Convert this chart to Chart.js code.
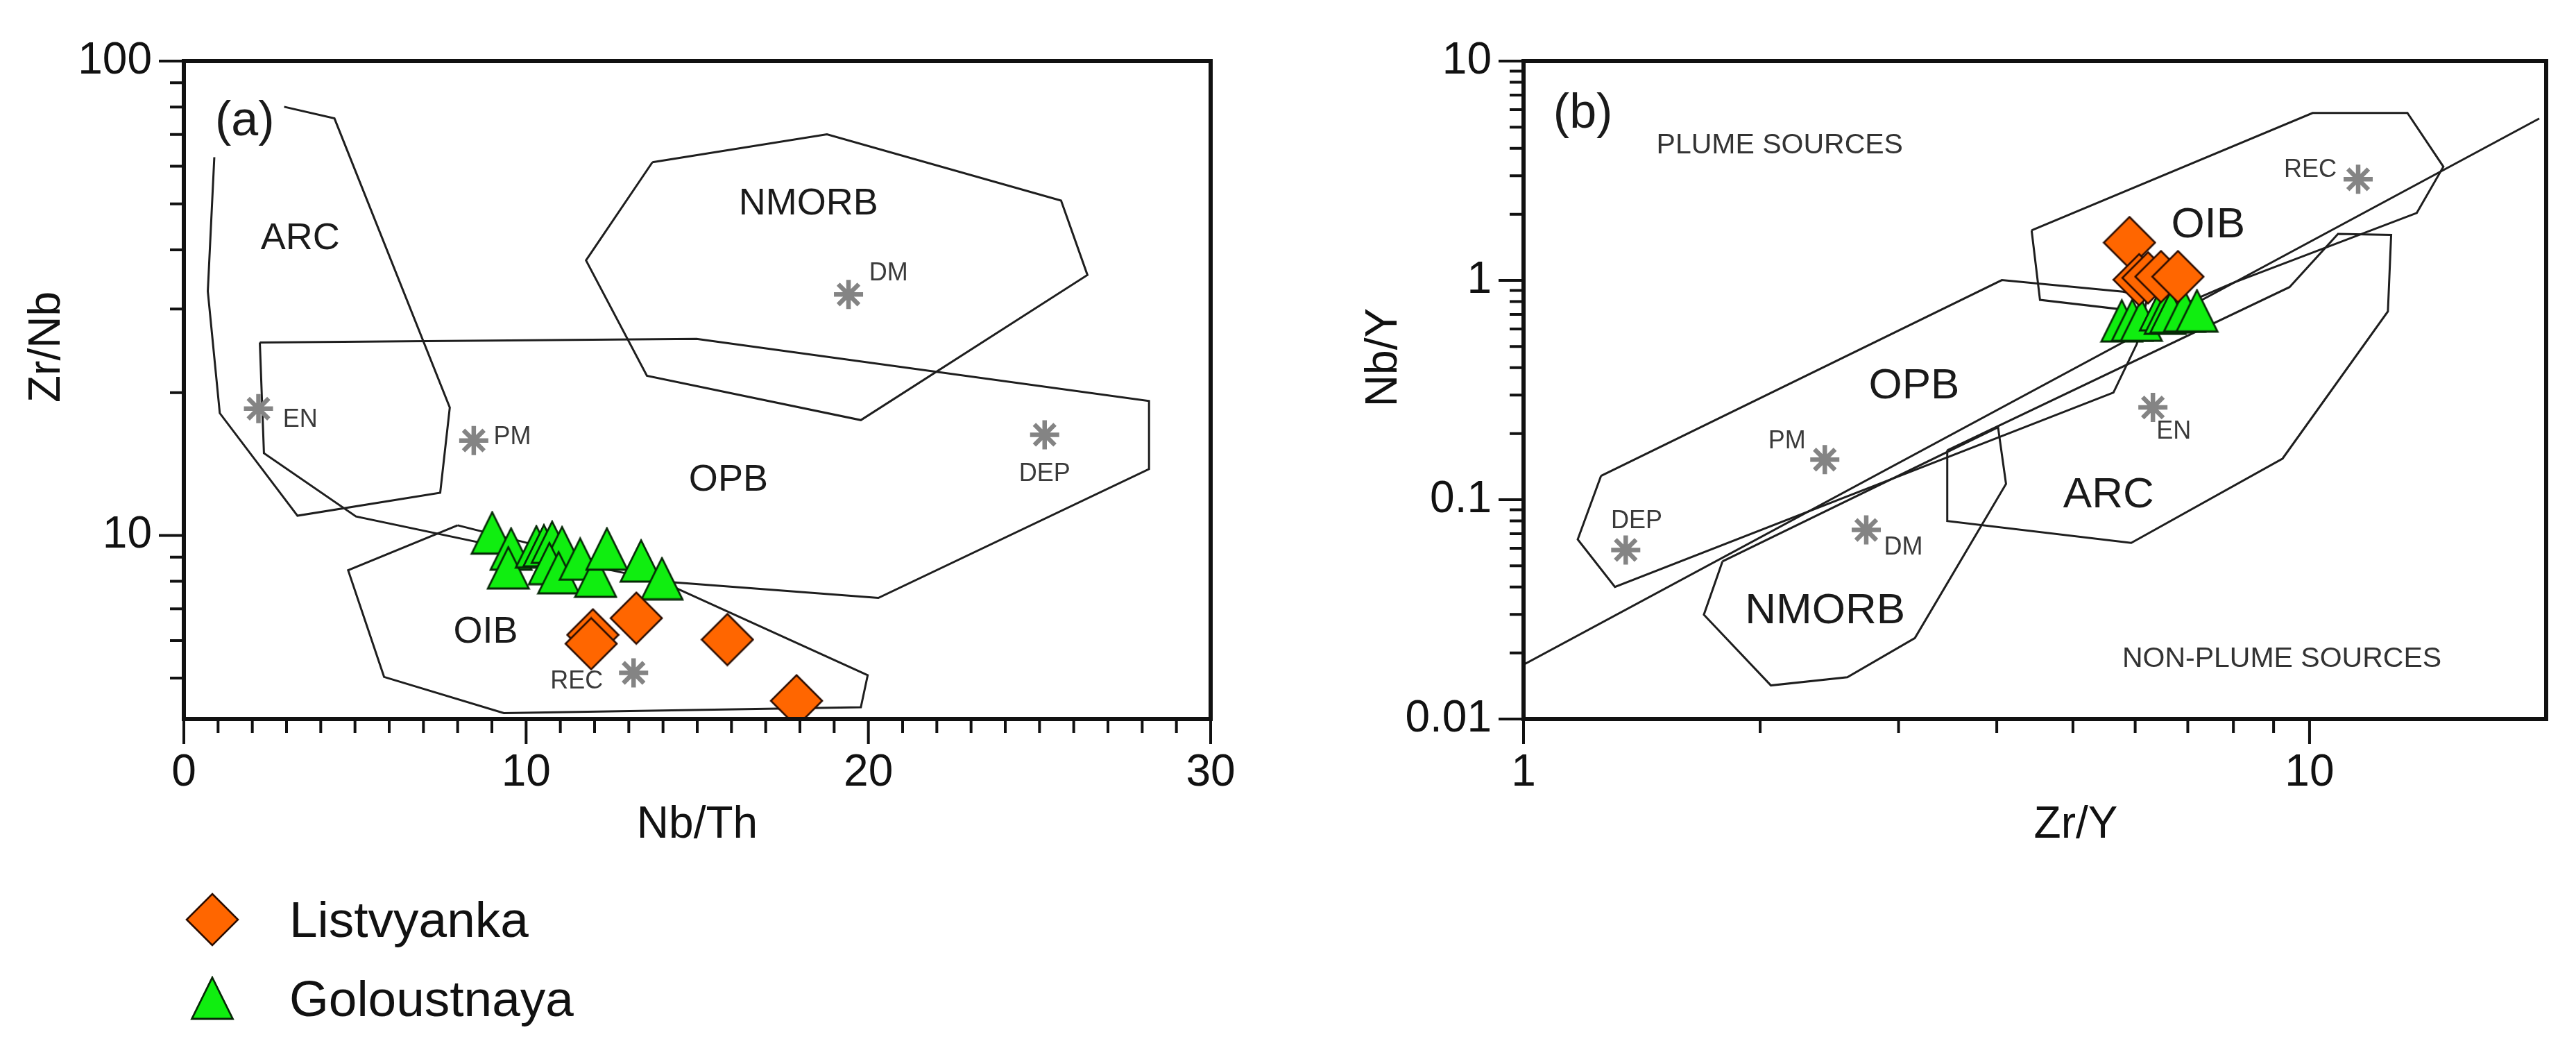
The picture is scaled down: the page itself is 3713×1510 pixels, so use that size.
<!DOCTYPE html>
<html>
<head>
<meta charset="utf-8">
<script src="https://cdn.jsdelivr.net/npm/chart.js@4.4.1/dist/chart.umd.min.js"></script>
<style>
  html, body { margin: 0; padding: 0; background: #fff; }
  body { width: 3713px; height: 1510px; position: relative; overflow: hidden; }
  canvas { position: absolute; top: 0; }
  #chartA { left: 0; }
  #chartB { left: 1850px; }
</style>
</head>
<body>
<canvas id="chartA" width="1850" height="1510"></canvas>
<canvas id="chartB" width="1863" height="1510"></canvas>
<script>
// ---- panel (a): Nb/Th vs Zr/Nb ----
const listvyankaA  = [[11.95, 6.17], [11.9, 5.91], [13.22, 6.69], [15.88, 6.03], [17.9, 4.48]];
const goloustnayaA = [[9.01, 10.13], [9.56, 9.37], [9.48, 8.55], [10.30, 9.47], [10.52, 9.52],
                      [10.76, 9.68], [11.05, 9.43], [10.68, 8.73], [10.95, 8.35], [11.58, 8.92],
                      [12.03, 8.21], [12.36, 9.37], [13.36, 8.84], [13.97, 8.11]];
const refPointsA   = [[2.18, 18.5], [8.47, 15.85], [19.42, 32.2], [25.15, 16.3], [13.14, 5.13]];
const refNamesA    = [['EN', 3.40, 17.5], ['PM', 9.60, 16.1], ['DM', 20.59, 35.6], ['DEP', 25.15, 13.45], ['REC', 11.48, 4.91]];
const arcA   = [[0.89, 62.7], [0.70, 32.7], [1.05, 18.1], [3.32, 11.0], [7.49, 12.3], [7.77, 18.6], [4.40, 75.7], [2.93, 80.1]];
const nmorbA = [[13.69, 61.2], [18.79, 70.1], [25.63, 50.8], [26.40, 35.4], [19.78, 17.5], [13.53, 21.7], [11.75, 38.0], [13.69, 61.2]];
const opbA   = [[2.22, 25.5], [14.98, 25.96], [28.2, 19.2], [28.2, 13.8], [20.29, 7.38], [14.1, 7.98], [5.03, 10.96], [2.34, 14.9], [2.22, 25.5]];
const oibA   = [[8.0, 10.5], [4.8, 8.44], [5.85, 5.03], [9.35, 4.22], [19.78, 4.34], [19.98, 5.07], [13.3, 8.4], [8.0, 10.5]];
const fieldNamesA = [['ARC', 3.40, 42.2], ['NMORB', 18.25, 49.9], ['OPB', 15.91, 13.08], ['OIB', 8.82, 6.25]];
const aXTicks  = [0,1,2,3,4,5,6,7,8,9,10,11,12,13,14,15,16,17,18,19,20,21,22,23,24,25,26,27,28,29,30];
const aXLabels = [0, 10, 20, 30];
const aYTicks  = [5,6,7,8,9,10,20,30,40,50,60,70,80,90,100];
const aYLabels = [10, 100];

// ---- panel (b): Zr/Y vs Nb/Y ----
const listvyankaB  = [[5.90, 1.487], [6.07, 1.007], [6.23, 1.027], [6.47, 1.04], [6.80, 1.04]];
const goloustnayaB = [[5.77, 0.655], [5.95, 0.66], [6.11, 0.66], [6.46, 0.736], [6.55, 0.71],
                      [6.66, 0.719], [6.93, 0.728], [7.19, 0.728]];
const refPointsB   = [[11.53, 2.89], [6.32, 0.2634], [2.417, 0.1523], [2.729, 0.0728], [1.349, 0.059]];
const refNamesB    = [['REC', 10.02, 3.18], ['EN', 6.72, 0.204], ['PM', 2.164, 0.1837], ['DM', 3.042, 0.0605], ['DEP', 1.393, 0.0796]];
const oibB   = [[4.43, 1.69], [10.09, 5.80], [13.32, 5.80], [14.80, 3.30], [13.69, 2.03], [8.01, 0.978], [6.47, 0.703], [4.54, 0.815], [4.43, 1.69]];
const opbB   = [[1.255, 0.1285], [4.06, 1.003], [5.79, 0.888], [6.22, 0.838], [6.03, 0.514], [5.63, 0.308], [1.307, 0.04], [1.172, 0.0659], [1.255, 0.1285]];
const nmorbB = [[1.791, 0.0523], [1.696, 0.0299], [2.064, 0.01423], [2.582, 0.0155], [3.147, 0.0234], [4.11, 0.118], [4.015, 0.214], [1.791, 0.0523]];
const arcB   = [[3.46, 0.168], [9.43, 0.932], [10.87, 1.63], [12.70, 1.611], [12.58, 0.722], [9.24, 0.154], [5.93, 0.0635], [3.46, 0.08], [3.46, 0.168]];
const dNbLine = [[1, 0.0177], [19.6, 5.47]];
const fieldNamesB  = [['OIB', 7.43, 1.775], ['OPB', 3.14, 0.3275], ['ARC', 5.55, 0.1045], ['NMORB', 2.419, 0.031]];
const sourceNamesB = [['PLUME SOURCES', 2.118, 4.107], ['NON-PLUME SOURCES', 9.22, 0.01875]];
const bXTicks  = [1,2,3,4,5,6,7,8,9,10];
const bXLabels = [1, 10];
const bYTicks  = [0.01,0.02,0.03,0.04,0.05,0.06,0.07,0.08,0.09,
                  0.1,0.2,0.3,0.4,0.5,0.6,0.7,0.8,0.9,
                  1,2,3,4,5,6,7,8,9,10];
const bYLabels = [0.01, 0.1, 1, 10];

const FONT = '"Liberation Sans", Arial, Helvetica, sans-serif';

function pts(arr) { return arr.map(p => ({ x: p[0], y: p[1] })); }

// marker images
function makeDiamond() {
  const c = document.createElement('canvas');
  c.width = 78; c.height = 78;
  const g = c.getContext('2d');
  g.beginPath();
  g.moveTo(39, 2); g.lineTo(76, 39); g.lineTo(39, 76); g.lineTo(2, 39); g.closePath();
  g.fillStyle = '#ff6600'; g.fill();
  g.lineWidth = 2.6; g.strokeStyle = '#2a0c00'; g.stroke();
  return c;
}
function makeTriangle() {
  const c = document.createElement('canvas');
  c.width = 64; c.height = 64;
  const g = c.getContext('2d');
  g.beginPath();
  g.moveTo(32, 2.5); g.lineTo(61.5, 62); g.lineTo(2.5, 62); g.closePath();
  g.fillStyle = '#10ee10'; g.fill();
  g.lineWidth = 2.8; g.strokeStyle = '#062806'; g.stroke();
  return c;
}
const diamondImg = makeDiamond();
const triangleImg = makeTriangle();

function fieldSet(arr) {
  return { type: 'line', data: pts(arr), showLine: true, borderColor: '#1e1e1e', borderWidth: 3,
           pointRadius: 0, fill: false, tension: 0, order: 3 };
}
function sampleSets(listv, golou, refs) {
  return [
    { label: 'Listvyanka', data: pts(listv), pointStyle: diamondImg, pointRadius: 10, order: 0 },
    { label: 'Goloustnaya', data: pts(golou), pointStyle: triangleImg, pointRadius: 10, order: 1 },
    { label: 'ref', data: pts(refs), pointStyle: 'star', pointRadius: 21, borderColor: '#848484',
      backgroundColor: '#848484', borderWidth: 6.5, order: 2 }
  ];
}

function overlay(cfg) {
  return {
    id: 'overlay',
    afterDatasetsDraw(chart) {
      const ctx = chart.ctx, sx = chart.scales.x, sy = chart.scales.y;
      ctx.save();
      ctx.textAlign = 'center';
      ctx.textBaseline = 'middle';
      cfg.texts.forEach(grp => {
        ctx.font = grp.size + 'px ' + FONT;
        ctx.fillStyle = grp.color;
        grp.items.forEach(([t, x, y]) => ctx.fillText(t, sx.getPixelForValue(x), sy.getPixelForValue(y)));
      });
      ctx.restore();
    },
    afterDraw(chart) {
      const ctx = chart.ctx, a = chart.chartArea, sx = chart.scales.x, sy = chart.scales.y;
      ctx.save();
      ctx.strokeStyle = '#111';
      ctx.lineWidth = 6;
      ctx.strokeRect(a.left, a.top, a.right - a.left, a.bottom - a.top);
      ctx.lineWidth = 4;
      ctx.beginPath();
      sx.ticks.forEach(t => {
        const p = sx.getPixelForValue(t.value);
        const len = cfg.xMajor.includes(t.value) ? 36 : 20;
        ctx.moveTo(p, a.bottom); ctx.lineTo(p, a.bottom + len);
      });
      sy.ticks.forEach(t => {
        const p = sy.getPixelForValue(t.value);
        const len = cfg.yMajor.includes(t.value) ? 36 : 20;
        ctx.moveTo(a.left, p); ctx.lineTo(a.left - len, p);
      });
      ctx.stroke();
      // axis titles
      ctx.fillStyle = '#111';
      ctx.font = '64px ' + FONT;
      ctx.textAlign = 'center';
      ctx.textBaseline = 'middle';
      ctx.fillText(cfg.xTitle[0], cfg.xTitle[1], cfg.xTitle[2]);
      ctx.save();
      ctx.translate(cfg.yTitle[1], cfg.yTitle[2]);
      ctx.rotate(-Math.PI / 2);
      ctx.fillText(cfg.yTitle[0], 0, 0);
      ctx.restore();
      ctx.restore();
      if (cfg.legend) cfg.legend(ctx);
    }
  };
}

function axis(type, min, max, tickVals, labelVals, fitProp, fitVal) {
  return {
    type, min, max,
    afterBuildTicks: s => { s.ticks = tickVals.map(v => ({ value: v })); },
    afterFit: s => { s[fitProp] = fitVal; },
    ticks: {
      autoSkip: false, maxRotation: 0, padding: 10, color: '#111',
      font: { size: 64, family: FONT, lineHeight: 1 },
      callback: v => labelVals.includes(v) ? String(v) : ''
    },
    grid: { display: true, drawOnChartArea: false, drawTicks: true, tickLength: 36,
            color: 'rgba(0,0,0,0)', tickColor: 'rgba(0,0,0,0)' },
    border: { display: false }
  };
}

function drawLegend(ctx) {
  ctx.save();
  ctx.drawImage(diamondImg, 306 - 39, 1325 - 39);
  ctx.drawImage(triangleImg, 306 - 32, 1438 - 32);
  ctx.fillStyle = '#111';
  ctx.font = '73px ' + FONT;
  ctx.textAlign = 'left';
  ctx.textBaseline = 'alphabetic';
  ctx.fillText('Listvyanka', 417, 1350);
  ctx.fillText('Goloustnaya', 417, 1464);
  ctx.restore();
}

const common = {
  responsive: false, animation: false, devicePixelRatio: 1, events: [],
  plugins: { legend: { display: false }, tooltip: { enabled: false } }
};

// Chart (a)
new Chart(document.getElementById('chartA'), {
  type: 'scatter',
  data: { datasets: [
    ...sampleSets(listvyankaA, goloustnayaA, refPointsA),
    fieldSet(arcA), fieldSet(nmorbA), fieldSet(opbA), fieldSet(oibA)
  ] },
  options: Object.assign({}, common, {
    layout: { padding: { left: 0, top: 88, right: 105, bottom: 324 } },
    scales: {
      x: axis('linear', 0, 30, aXTicks, aXLabels, 'height', 150),
      y: axis('logarithmic', 4.1, 100, aYTicks, aYLabels, 'width', 265)
    }
  }),
  plugins: [overlay({
    texts: [
      { size: 54, color: '#1a1a1a', items: fieldNamesA },
      { size: 70, color: '#1a1a1a', items: [['(a)', 1.78, 74.5]] },
      { size: 36, color: '#3a3a3a', items: refNamesA }
    ],
    xMajor: aXLabels, yMajor: aYLabels,
    xTitle: ['Nb/Th', 1005, 1189], yTitle: ['Zr/Nb', 68, 500],
    legend: drawLegend
  })]
});

// Chart (b)
new Chart(document.getElementById('chartB'), {
  type: 'scatter',
  data: { datasets: [
    ...sampleSets(listvyankaB, goloustnayaB, refPointsB),
    fieldSet(oibB), fieldSet(opbB), fieldSet(nmorbB), fieldSet(arcB), fieldSet(dNbLine)
  ] },
  options: Object.assign({}, common, {
    layout: { padding: { left: 0, top: 88, right: 43, bottom: 324 } },
    scales: {
      x: axis('logarithmic', 1, 20, bXTicks, bXLabels, 'height', 150),
      y: axis('logarithmic', 0.01, 10, bYTicks, bYLabels, 'width', 346)
    }
  }),
  plugins: [overlay({
    texts: [
      { size: 62, color: '#1a1a1a', items: fieldNamesB },
      { size: 70, color: '#1a1a1a', items: [['(b)', 1.19, 5.72]] },
      { size: 41, color: '#333', items: sourceNamesB },
      { size: 36, color: '#3a3a3a', items: refNamesB }
    ],
    xMajor: bXLabels, yMajor: bYLabels,
    xTitle: ['Zr/Y', 1142, 1189], yTitle: ['Nb/Y', 145, 515]
  })]
});
</script>
</body>
</html>
